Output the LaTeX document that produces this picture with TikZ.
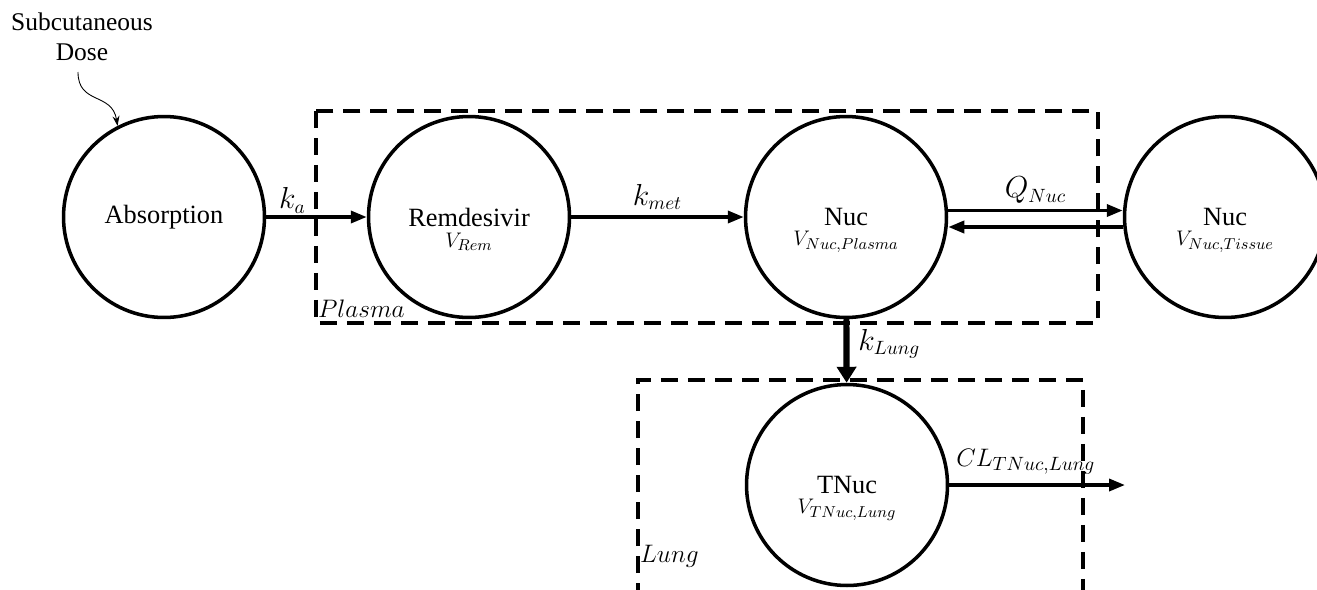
\documentclass[tikz,border=0pt]{standalone}
\usepackage{fontspec}
\setmainfont{Liberation Serif}
\usetikzlibrary{arrows.meta}

\tikzset{
  cmpt/.style={circle, draw, line width=2pt, minimum size=4.02cm, inner sep=0pt,
               font=\fontsize{15}{17}\selectfont},
  vol/.style={font=\fontsize{13}{15}\selectfont, inner sep=0pt},
  flow/.style={line width=2pt, -{Triangle[length=0.32cm, width=0.24cm]}},
  zone/.style={line width=1.8pt, dash pattern=on 0.34cm off 0.2cm},
  rate/.style={font=\fontsize{16}{18}\selectfont, inner sep=1pt},
  zonelabel/.style={font=\fontsize{13.5}{16}\selectfont, inner sep=1pt, anchor=south west}
}

\begin{document}
\begin{tikzpicture}[x=0.02cm, y=-0.02cm]
\clip (0,0) rectangle (1317,589);

% compartments
\node[cmpt] (abs)  at (164,217)  {Absorption};
\node[cmpt] (rem)  at (469,217)  {Remdesivir};
\node[cmpt] (nucP) at (846,217)  {Nuc};
\node[cmpt] (nucT) at (1225,217) {Nuc};
\node[cmpt] (tnuc) at (847,485)  {TNuc};

\node[vol] (vRem)  at ([yshift=-0.5cm]rem.center)  {$V_{Rem}$};
\node[vol] (vNucP) at ([yshift=-0.5cm]nucP.center) {$V_{Nuc,Plasma}$};
\node[vol] (vNucT) at ([yshift=-0.5cm]nucT.center) {$V_{Nuc,Tissue}$};
\node[vol] (vTNuc) at ([yshift=-0.5cm]tnuc.center) {$V_{TNuc,Lung}$};

% plasma and lung boxes
\draw[zone] (316,111) rectangle (1098,323);
\node[zonelabel] (plasma) at (316,320) {$Plasma$};
\draw[zone] (638,600) -- (638,380) -- (1083,380) -- (1083,600);
\node[zonelabel] (lung) at (638,570) {$Lung$};

% dose
\node[font=\fontsize{14.5}{17}\selectfont, align=center] (dose) at (82,37)
     {Subcutaneous\\Dose};
\draw[line width=0.5pt, -{Stealth[length=0.2cm, width=0.14cm]}] (78,72)
     .. controls (78,105) and (112,92) .. (abs.117);

% rates
\draw[flow] (abs) -- (rem) node[rate, pos=0.26, above] {$k_a$};
\draw[flow] (rem) -- (nucP) node[rate, midway, above, yshift=2pt] {$k_{met}$};
\draw[flow] ([yshift=0.13cm]nucP.east) -- ([yshift=0.13cm]nucT.west)
     node[rate, midway, above, yshift=2pt] {$Q_{Nuc}$};
\draw[flow] ([yshift=-0.2cm]nucT.west) -- ([yshift=-0.2cm]nucP.east);
\draw[line width=3.5pt, -{Triangle[length=0.32cm, width=0.38cm]}] (nucP) -- (tnuc)
     node[rate, midway, right, xshift=4pt, yshift=4pt] {$k_{Lung}$};
\coordinate (gone) at (1125,485);
\draw[flow] (tnuc.east) -- (gone)
     node[rate, font=\fontsize{15}{17}\selectfont, pos=0.02, anchor=south west, yshift=4pt]
     {$CL_{TNuc,Lung}$};
\end{tikzpicture}
\end{document}
